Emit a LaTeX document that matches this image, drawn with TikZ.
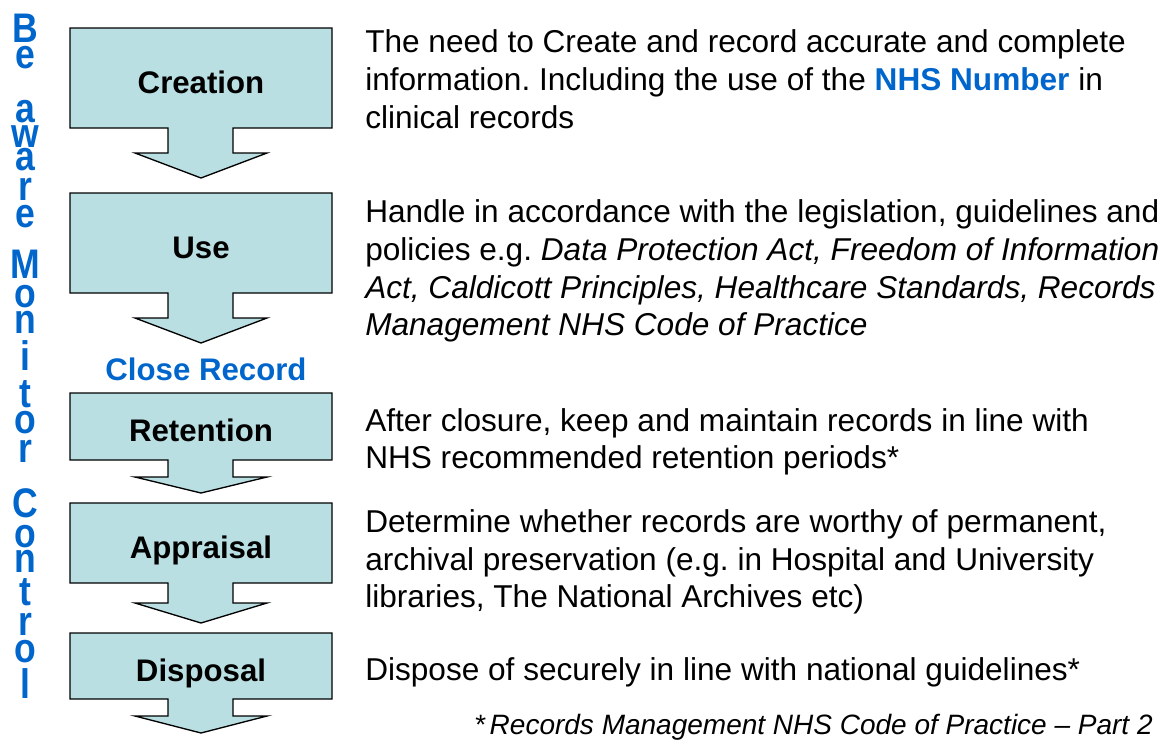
\documentclass[tikz,border=0pt]{standalone}
\usepackage{fontspec}
\setmainfont{Liberation Sans}
\newfontfamily\sidefont[FakeStretch=0.86]{Liberation Sans}
\frenchspacing

\definecolor{stagefill}{RGB}{185,223,227}
\definecolor{nhsblue}{RGB}{0,102,204}

\tikzset{
	stagebox/.style={draw=black, fill=stagefill, line width=1pt},
	stagelabel/.style={anchor=base, inner sep=0pt, font=\fontsize{23.4pt}{28pt}\selectfont\bfseries},
	bodytext/.style={anchor=base west, inner sep=0pt, font=\fontsize{23.7pt}{28pt}\selectfont},
	sidetext/.style={anchor=base, inner sep=0pt, text=nhsblue, font=\sidefont\fontsize{31pt}{34pt}\selectfont\bfseries},
}

\begin{document}
\begin{tikzpicture}[x=0.75pt, y=-0.75pt]
\useasboundingbox (0,0) rectangle (1175,740);

% the five stages, each a box with an arrow underneath
\foreach \ya/\yb/\yc/\yd/\lbl [count=\i] in {28/128/153/178/Creation, 193/293/318/343/Use, 393/460/477/493/Retention, 503/583/603/623/Appraisal, 633/699/716/733/Disposal}{
	\draw[stagebox] (70,\ya) -- (332,\ya) -- (332,\yb) -- (233,\yb) -- (233,\yc) -- (267,\yc) -- (201,\yd) -- (135,\yc) -- (168,\yc) -- (168,\yb) -- (70,\yb) -- cycle;
	\node[stagelabel] (stage\i) at (201,{(\ya+\yb)/2+15}) {\lbl};
}

\node[stagelabel, text=nhsblue] (close) at (206,380) {Close Record};

% running down the left side
\foreach \ch/\y [count=\i] in {B/42, e/68, a/122, w/147, a/170, r/200, e/227, M/278, o/307, n/333, i/370, t/407, o/433, r/462, C/517, o/547, n/572, t/605, r/635, o/662, l/698}{
	\node[sidetext] (side\i) at (25,\y) {\ch};
}

% descriptions
\foreach \y/\txt [count=\i] in {
	52/{The need to Create and record accurate and complete},
	90/{information. Including the use of the \textcolor{nhsblue}{\textbf{NHS Number}} in},
	128/{clinical records},
	222/{Handle in accordance with the legislation, guidelines and},
	260/{policies e.g. \textit{Data Protection Act, Freedom of Information}},
	298/{\textit{Act, Caldicott Principles, Healthcare Standards, Records}},
	335/{\textit{Management NHS Code of Practice}},
	431/{After closure, keep and maintain records in line with},
	468/{NHS recommended retention periods*},
	532/{Determine whether records are worthy of permanent,},
	570/{archival preservation (e.g. in Hospital and University},
	607/{libraries, The National Archives etc)},
	680/{Dispose of securely in line with national guidelines*}}{
	\node[bodytext] (desc\i) at (365,\y) {\txt};
}

\node[anchor=base east, inner sep=0pt, font=\fontsize{21pt}{24pt}\selectfont\itshape] (note) at (1153,734) {*\,Records Management NHS Code of Practice \textendash{} Part 2};
\end{tikzpicture}
\end{document}
